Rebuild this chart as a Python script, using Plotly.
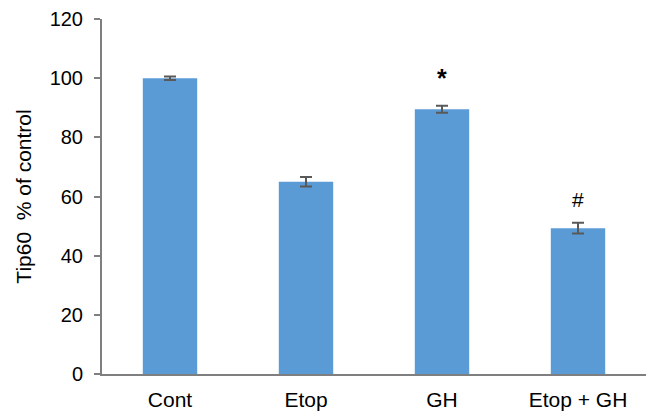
import plotly.graph_objects as go

# Tip60 expression per treatment group, as % of control
categories = ["Cont", "Etop", "GH", "Etop + GH"]
values = [100.0, 65.0, 89.5, 49.3]
errors = [0.6, 1.6, 1.2, 1.8]
marks = ["", "", "<b>*</b>", "#"]
mark_size = [21, 21, 25, 21]
mark_shift = [0, 0, 28, 23]

fig = go.Figure()
fig.add_trace(go.Bar(
    x=categories,
    y=values,
    marker=dict(color="#5B9BD5", line=dict(width=0)),
    error_y=dict(type="data", array=errors, visible=True,
                 color="#595959", thickness=2, width=6),
    width=0.4,
))

# Significance markers above the bars
for cat, val, err, m, fs, s in zip(categories, values, errors, marks, mark_size, mark_shift):
    if m:
        fig.add_annotation(x=cat, y=val + err, text=m, showarrow=False,
                           yanchor="middle", yshift=s,
                           font=dict(size=fs, color="#000000"))

fig.update_layout(
    width=652, height=418,
    margin=dict(l=102, r=6, t=19, b=44),
    plot_bgcolor="white", paper_bgcolor="white",
    font=dict(family="Liberation Sans, Arial, sans-serif", size=20, color="#000000"),
    showlegend=False,
    bargap=0.6,
)
fig.update_xaxes(
    showline=True, linecolor="#7F7F7F", linewidth=2,
    ticks="", showgrid=False, tickfont=dict(size=21),
    ticklabelstandoff=6,
)
fig.update_yaxes(
    range=[0, 120], dtick=20, showline=True, linecolor="#7F7F7F", linewidth=2,
    ticks="outside", ticklen=6, tickcolor="#7F7F7F", tickwidth=2,
    showgrid=False, zeroline=False, tickfont=dict(size=20),
    ticklabelstandoff=7,
    title=dict(text="Tip60  % of control", font=dict(size=21), standoff=12),
)

fig.write_html("out.html")
